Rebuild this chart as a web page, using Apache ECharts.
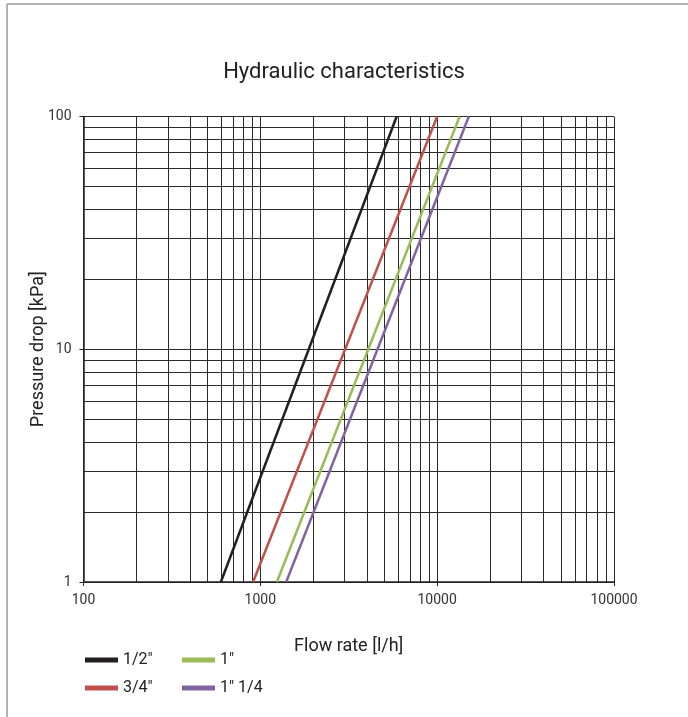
<!DOCTYPE html>
<html>
<head>
<meta charset="utf-8">
<script src="https://cdn.jsdelivr.net/npm/echarts@6/dist/echarts.min.js"></script>
<style>
  html, body { margin: 0; padding: 0; background: #fff; }
  #chart { width: 688px; height: 717px; }
</style>
</head>
<body>
<div id="chart"></div>
<script>
  // curve end points: [flow l/h, pressure kPa]
  const seriesNames = ['1/2"', '3/4"', '1"', '1" 1/4']
  const halfInch = [[598, 1], [5900, 100]]
  const threeQuarter = [[910, 1], [10000, 100]]
  const oneInch = [[1240, 1], [13400, 100]]
  const oneQuarter = [[1400, 1], [15100, 100]]
  const colors = ['#231f20', '#c0504d', '#9bbb59', '#8064a2']

  // minor grid positions
  const minorX = [200, 300, 400, 500, 600, 700, 800, 900,
    2000, 3000, 4000, 5000, 6000, 7000, 8000, 9000,
    20000, 30000, 40000, 50000, 60000, 70000, 80000, 90000]
  const minorY = [2, 3, 4, 5, 6, 7, 8, 9, 20, 30, 40, 50, 60, 70, 80, 90]

  const font = '"Roboto", sans-serif'
  const gridLine = { color: '#2a2a2a', width: 1, type: 'solid' }

  const chart = echarts.init(document.getElementById('chart'))

  const curves = [halfInch, threeQuarter, oneInch, oneQuarter].map((d, i) => ({
    name: seriesNames[i],
    type: 'line',
    data: d,
    symbol: 'none',
    z: 5,
    lineStyle: { color: colors[i], width: 2.5 },
    itemStyle: { color: colors[i] }
  }))

  chart.setOption({
    animation: false,
    textStyle: { fontFamily: font },
    title: {
      text: 'Hydraulic characteristics',
      left: 'center',
      top: 56,
      textStyle: { fontFamily: font, fontSize: 22, fontWeight: 'normal', color: '#222' }
    },
    graphic: [
      { type: 'line', shape: { x1: 7, y1: 4, x2: 688, y2: 4 }, style: { stroke: '#999', lineWidth: 1.5 } },
      { type: 'line', shape: { x1: 7, y1: 4, x2: 7, y2: 717 }, style: { stroke: '#999', lineWidth: 1.5 } }
    ],
    legend: [
      {
        data: [seriesNames[0], seriesNames[1]],
        orient: 'vertical',
        left: 80, top: 647,
        itemGap: 12,
        icon: 'rect', itemWidth: 33, itemHeight: 5,
        textStyle: { fontFamily: font, fontSize: 16, color: '#222' }
      },
      {
        data: [seriesNames[2], seriesNames[3]],
        orient: 'vertical',
        left: 177, top: 647,
        itemGap: 12,
        icon: 'rect', itemWidth: 33, itemHeight: 5,
        textStyle: { fontFamily: font, fontSize: 16, color: '#222' }
      }
    ],
    grid: { left: 83.5, right: 74, top: 116.5, bottom: 135, containLabel: false },
    xAxis: {
      type: 'log',
      logBase: 10,
      min: 100,
      max: 100000,
      name: 'Flow rate [l/h]',
      nameLocation: 'middle',
      nameGap: 55,
      nameMoveOverlap: false,
      nameTextStyle: { fontFamily: font, fontSize: 18, color: '#222' },
      axisLine: { show: true, lineStyle: { color: '#222', width: 1.5 } },
      axisTick: { show: true, length: 4, lineStyle: { color: '#222' } },
      axisLabel: { fontFamily: font, fontSize: 14, color: '#333', margin: 11, formatter: v => String(Math.round(v)) },
      splitLine: { show: true, lineStyle: gridLine },
      minorTick: { show: false },
      minorSplitLine: { show: false }
    },
    yAxis: {
      type: 'log',
      logBase: 10,
      min: 1,
      max: 100,
      name: 'Pressure drop [kPa]',
      nameLocation: 'middle',
      nameGap: 36,
      nameMoveOverlap: false,
      nameRotate: 90,
      nameTextStyle: { fontFamily: font, fontSize: 18, color: '#222' },
      axisLine: { show: true, lineStyle: { color: '#222', width: 1.5 } },
      axisTick: { show: true, length: 4, lineStyle: { color: '#222' } },
      axisLabel: { fontFamily: font, fontSize: 14, color: '#333', margin: 12, formatter: v => String(Math.round(v)) },
      splitLine: { show: true, lineStyle: gridLine }
    },
    series: [
      {
        type: 'line',
        name: 'grid',
        data: [],
        silent: true,
        z: 1,
        markLine: {
          silent: true,
          symbol: 'none',
          label: { show: false },
          lineStyle: gridLine,
          animation: false,
          data: minorX.map(v => ({ xAxis: v })).concat(minorY.map(v => ({ yAxis: v })))
        }
      }
    ].concat(curves)
  })
</script>
</body>
</html>
